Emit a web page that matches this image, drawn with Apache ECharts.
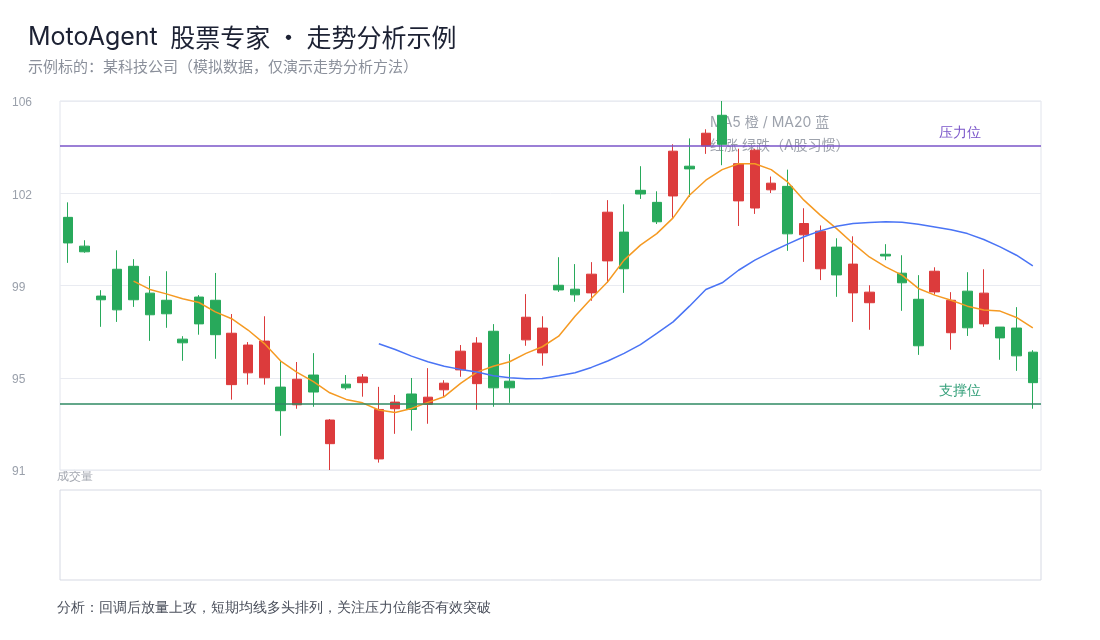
<!DOCTYPE html>
<html>
<head>
<meta charset="utf-8">
<title>MotoAgent 股票专家</title>
<script src="https://cdn.jsdelivr.net/npm/echarts@6/dist/echarts.min.js"></script>
<style>
    html, body {margin: 0; padding: 0; background: #fff;}
    #kline-chart {width: 1100px; height: 640px;}
</style>
</head>
<body>
<div id="kline-chart"></div>
<script>
// 模拟行情数据（60个交易日）
var days = [];
for (var k = 1; k <= 60; k++) { days.push('D' + k); }

var opens = [101.27, 100.10, 98.07, 99.16, 99.28, 98.19, 97.90, 96.32, 98.03, 97.90,
    94.47, 94.95, 94.75, 94.37, 93.65, 94.86, 92.07, 94.49, 94.55, 91.45,
    93.49, 94.09, 93.67, 94.26, 95.07, 94.51, 96.64, 94.61, 96.29, 95.76,
    98.51, 98.35, 98.20, 99.50, 100.67, 102.37, 101.88, 102.14, 103.35, 104.17,
    105.42, 101.94, 101.65, 102.39, 102.53, 100.56, 99.18, 100.06, 98.20, 97.80,
    99.77, 99.00, 97.94, 98.24, 96.58, 98.27, 96.94, 96.81, 96.77, 95.79];
var closes = [100.23, 99.87, 97.92, 97.51, 97.92, 97.31, 97.35, 96.17, 96.94, 96.50,
    96.56, 96.08, 96.24, 93.41, 94.69, 94.17, 93.03, 94.34, 94.78, 93.46,
    93.76, 93.46, 93.96, 94.53, 95.83, 96.16, 94.34, 94.34, 97.21, 96.77,
    98.32, 98.12, 98.96, 101.48, 99.18, 102.22, 101.09, 103.96, 103.24, 104.69,
    104.24, 103.45, 104.00, 102.66, 100.60, 101.02, 100.71, 98.93, 99.37, 98.23,
    99.70, 98.61, 96.05, 99.08, 97.90, 96.78, 98.19, 96.37, 95.64, 94.55];
var lows = [99.42, 99.83, 96.82, 97.02, 97.63, 96.25, 96.78, 95.44, 96.50, 95.52,
    93.86, 94.47, 94.47, 92.39, 93.49, 93.57, 91.00, 94.26, 93.98, 91.30,
    92.47, 92.60, 92.88, 93.98, 94.79, 93.45, 93.57, 93.73, 96.05, 95.24,
    98.24, 97.84, 97.88, 98.61, 98.20, 102.02, 101.00, 101.25, 102.10, 103.85,
    103.39, 100.92, 101.41, 102.26, 99.91, 99.46, 98.72, 98.04, 97.02, 96.70,
    99.53, 97.47, 95.68, 98.13, 95.89, 96.45, 96.82, 95.48, 95.03, 93.49];
var highs = [101.88, 100.34, 98.31, 99.93, 99.57, 98.88, 99.08, 96.44, 98.11, 99.01,
    97.34, 96.20, 97.25, 95.47, 95.39, 95.75, 93.07, 94.86, 94.90, 94.38,
    94.05, 94.74, 95.14, 94.65, 96.08, 96.40, 96.93, 95.71, 98.15, 97.25,
    99.65, 99.37, 99.45, 101.97, 101.80, 103.35, 102.33, 104.24, 104.48, 104.85,
    106.00, 104.06, 104.06, 102.93, 103.21, 101.64, 100.94, 100.42, 100.50, 98.51,
    100.18, 99.73, 98.92, 99.24, 98.23, 99.04, 99.16, 96.81, 97.62, 95.87];

// 均线（MA5 从第5天起，MA20 从第20天起）
var ma5 = ['-', '-', '-', '-', 98.68, 98.34, 98.16, 97.96, 97.81, 97.43,
    97.15, 96.69, 96.14, 95.43, 94.97, 94.59, 94.14, 93.87, 93.73, 93.44,
    93.34, 93.50, 93.75, 93.98, 94.52, 94.98, 95.22, 95.40, 95.74, 96.01,
    96.44, 97.25, 97.97, 98.65, 99.53, 100.14, 100.61, 101.25, 102.17, 102.78,
    103.21, 103.45, 103.45, 103.21, 102.71, 101.97, 101.36, 100.81, 100.21, 99.66,
    99.26, 98.92, 98.38, 98.11, 97.90, 97.66, 97.50, 97.46, 97.20, 96.78];
var ma20 = ['-', '-', '-', '-', '-', '-', '-', '-', '-', '-',
    '-', '-', '-', '-', '-', '-', '-', '-', '-', 96.13,
    95.90, 95.63, 95.40, 95.22, 95.09, 94.98, 94.83, 94.75, 94.71, 94.72,
    94.83, 94.95, 95.17, 95.43, 95.74, 96.10, 96.55, 97.02, 97.66, 98.34,
    98.61, 99.12, 99.53, 99.87, 100.18, 100.48, 100.72, 100.91, 101.02, 101.06,
    101.09, 101.07, 100.99, 100.88, 100.77, 100.61, 100.37, 100.07, 99.73, 99.30];

// 压力位 / 支撑位
var resistance = 104.2;
var support = 93.7;
var yTicks = [91, 106];

var upColor = '#dc3b3c';
var downColor = '#28a95b';
var cjkFont = '"Noto Sans CJK SC", sans-serif';
var fontStack = 'Inter, "Noto Sans CJK SC", sans-serif';

var kdata = [];
for (var i = 0; i < days.length; i++) {
    kdata.push([opens[i], closes[i], lows[i], highs[i]]);
}

var KlineChart = echarts.init(document.getElementById('kline-chart'));
var KlineOption = {
    animation: false,
    title: {
        // 英文用 Inter，中文和间隔点用思源黑体
        text: '{lat|MotoAgent}{cjk| 股票专家 · 走势分析示例}',
        subtext: '示例标的：某科技公司（模拟数据，仅演示走势分析方法）',
        left: 23,
        top: 20,
        itemGap: 9,
        textStyle: {
            fontSize: 25, fontWeight: 'normal', color: '#1c2133',
            rich: {
                lat: {fontSize: 25, fontFamily: 'Inter', color: '#1c2133', padding: [0, 7, 0, 0]},
                cjk: {fontSize: 25, fontFamily: cjkFont, color: '#1c2133'}
            }
        },
        subtextStyle: {fontSize: 15, color: '#8b909b', fontFamily: cjkFont}
    },
    graphic: [
        {
            type: 'text', left: 710, top: 111,
            style: {
                text: 'MA5 橙 / MA20 蓝\n红涨 绿跌（A股习惯）',
                fontSize: 14, lineHeight: 23, fontFamily: fontStack,
                fill: 'rgba(140,146,158,0.85)'
            }
        },
        {
            type: 'text', left: 57, top: 471,
            style: {text: '成交量', fontSize: 12, fill: '#a3a7b0'}
        },
        {
            type: 'text', left: 57, top: 601,
            style: {
                text: '分析：回调后放量上攻，短期均线多头排列，关注压力位能否有效突破',
                fontSize: 14, fill: '#4a4f5b'
            }
        }
    ],
    grid: [
        {left: 60, right: 59, top: 101, height: 369, show: true, borderColor: '#e1e4ec', borderWidth: 1},
        {left: 60, right: 59, top: 490, height: 90, show: true, borderColor: '#d6d9e3', borderWidth: 1}
    ],
    xAxis: [
        {
            type: 'category', data: days, gridIndex: 0, boundaryGap: true,
            axisLine: {show: false}, axisTick: {show: false}, axisLabel: {show: false},
            splitLine: {show: false}
        },
        {
            type: 'category', data: days, gridIndex: 1, boundaryGap: true,
            axisLine: {show: false}, axisTick: {show: false}, axisLabel: {show: false}
        }
    ],
    yAxis: [
        {
            type: 'value', gridIndex: 0, scale: true,
            min: yTicks[0], max: yTicks[1], interval: (yTicks[1] - yTicks[0]) / 4,
            axisLine: {show: false}, axisTick: {show: false},
            axisLabel: {
                color: '#9aa0ab', fontSize: 12, align: 'left', margin: 48,
                verticalAlign: 'top', padding: [-4, 0, 0, 0],
                formatter: function (v) { return Math.round(v); }
            },
            splitLine: {lineStyle: {color: '#e9ebf1'}}
        },
        {
            type: 'value', gridIndex: 1,
            axisLine: {show: false}, axisTick: {show: false}, axisLabel: {show: false},
            splitLine: {show: false}
        }
    ],
    series: [
        {
            name: 'K线', type: 'candlestick', data: kdata,
            xAxisIndex: 0, yAxisIndex: 0, barWidth: 10,
            itemStyle: {
                color: upColor, color0: downColor,
                borderColor: upColor, borderColor0: downColor, borderWidth: 1
            },
            markLine: {
                symbol: 'none', silent: true,
                data: [
                    {
                        yAxis: resistance,
                        lineStyle: {color: '#7a55c9', width: 1.5, type: 'solid'},
                        label: {formatter: '压力位', position: 'insideEndTop', distance: [60, 5], color: '#7a55c9', fontSize: 14}
                    },
                    {
                        yAxis: support,
                        lineStyle: {color: '#2f8a63', width: 1.5, type: 'solid'},
                        label: {formatter: '支撑位', position: 'insideEndTop', distance: [60, 5], color: '#35a07a', fontSize: 14}
                    }
                ]
            }
        },
        {
            name: 'MA5', type: 'line', data: ma5, showSymbol: false, symbol: 'none',
            lineStyle: {color: '#f59a23', width: 1.5}
        },
        {
            name: 'MA20', type: 'line', data: ma20, showSymbol: false, symbol: 'none',
            lineStyle: {color: '#4a74f5', width: 1.5}
        }
    ]
};
KlineChart.setOption(KlineOption);
</script>
</body>
</html>
